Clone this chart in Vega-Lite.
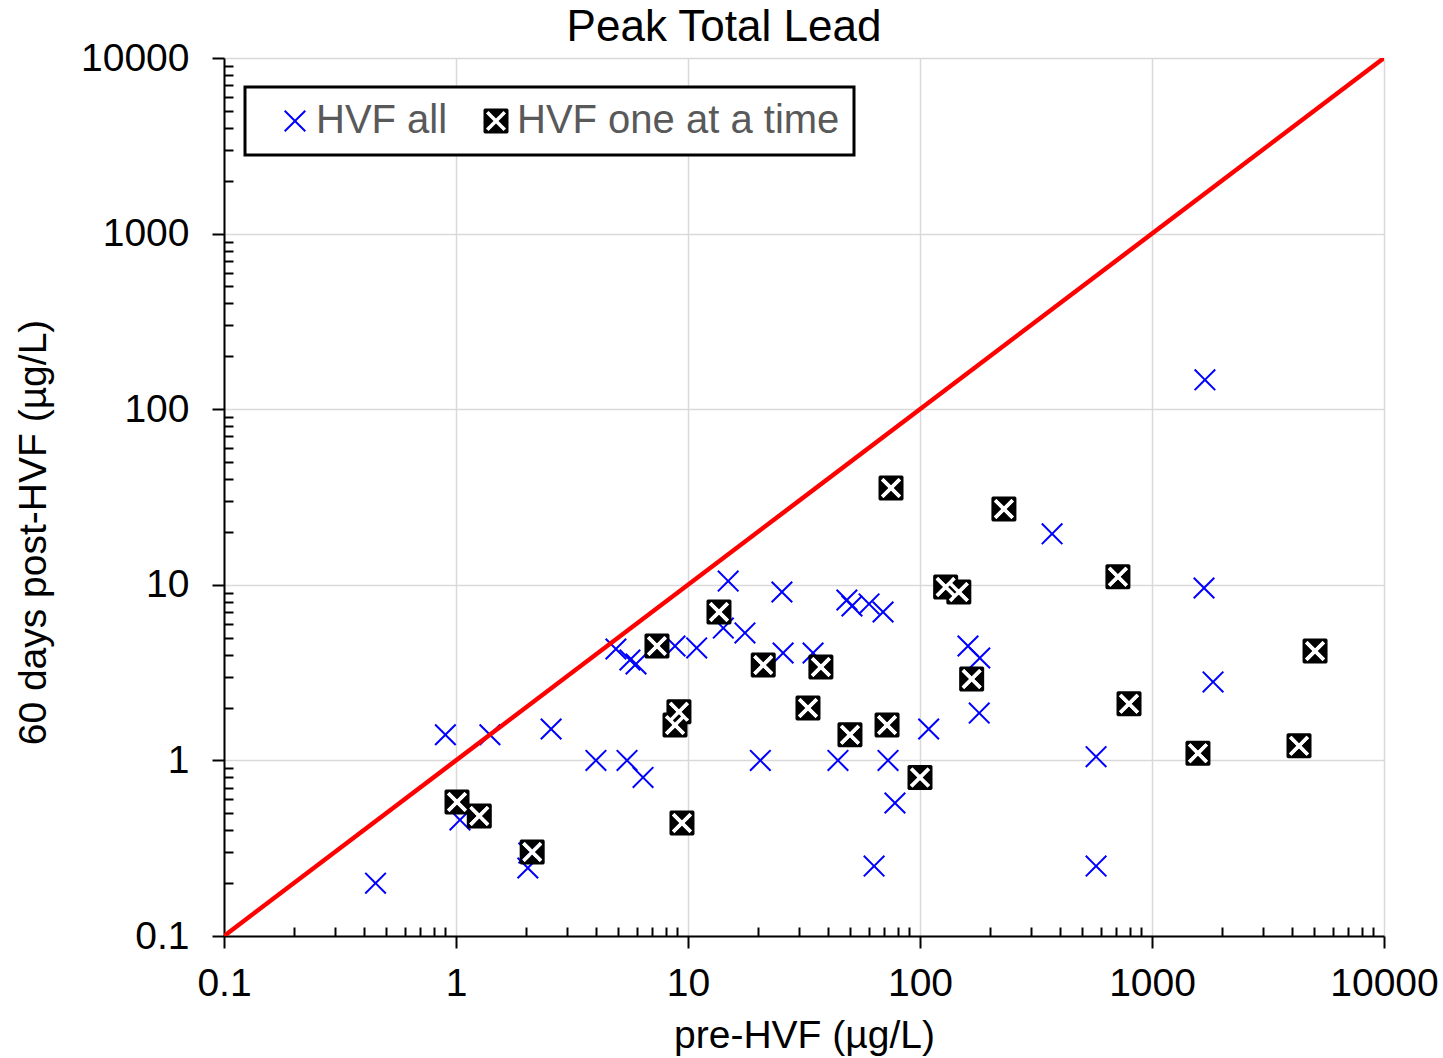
{
  "$schema": "https://vega.github.io/schema/vega-lite/v6.json",
  "width": 1160,
  "height": 878,
  "autosize": {"type": "none"},
  "padding": {"left": 224, "top": 58, "right": 59, "bottom": 122},
  "background": "white",
  "title": {
    "text": "Peak Total Lead",
    "font": "Liberation Sans",
    "fontSize": 44,
    "fontWeight": "normal",
    "color": "#000000",
    "anchor": "middle",
    "frame": "group",
    "baseline": "alphabetic",
    "dx": -80,
    "dy": 61,
    "offset": 15
  },
  "config": {
    "view": {"stroke": null},
    "font": "Liberation Sans",
    "legend": {"strokeWidth": 3}
  },
  "datasets": {
    "pts": [
      {"pre": 0.45, "post": 0.20, "series": "HVF all"},
      {"pre": 0.90, "post": 1.40, "series": "HVF all"},
      {"pre": 1.40, "post": 1.40, "series": "HVF all"},
      {"pre": 2.57, "post": 1.51, "series": "HVF all"},
      {"pre": 4.01, "post": 1.00, "series": "HVF all"},
      {"pre": 5.46, "post": 1.00, "series": "HVF all"},
      {"pre": 6.4, "post": 0.80, "series": "HVF all"},
      {"pre": 4.89, "post": 4.31, "series": "HVF all"},
      {"pre": 5.62, "post": 3.73, "series": "HVF all"},
      {"pre": 5.97, "post": 3.54, "series": "HVF all"},
      {"pre": 8.79, "post": 4.48, "series": "HVF all"},
      {"pre": 10.9, "post": 4.37, "series": "HVF all"},
      {"pre": 14.9, "post": 10.5, "series": "HVF all"},
      {"pre": 14.2, "post": 5.67, "series": "HVF all"},
      {"pre": 17.6, "post": 5.32, "series": "HVF all"},
      {"pre": 20.5, "post": 1.00, "series": "HVF all"},
      {"pre": 1.04, "post": 0.458, "series": "HVF all"},
      {"pre": 2.04, "post": 0.244, "series": "HVF all"},
      {"pre": 2.06, "post": 0.297, "series": "HVF all"},
      {"pre": 25.4, "post": 9.1, "series": "HVF all"},
      {"pre": 48.4, "post": 8.19, "series": "HVF all"},
      {"pre": 50.9, "post": 7.57, "series": "HVF all"},
      {"pre": 60.3, "post": 7.78, "series": "HVF all"},
      {"pre": 69.3, "post": 7.0, "series": "HVF all"},
      {"pre": 25.7, "post": 4.09, "series": "HVF all"},
      {"pre": 34.6, "post": 4.09, "series": "HVF all"},
      {"pre": 44.3, "post": 1.00, "series": "HVF all"},
      {"pre": 72.8, "post": 1.00, "series": "HVF all"},
      {"pre": 78.0, "post": 0.572, "series": "HVF all"},
      {"pre": 63.4, "post": 0.25, "series": "HVF all"},
      {"pre": 109, "post": 1.51, "series": "HVF all"},
      {"pre": 161, "post": 4.48, "series": "HVF all"},
      {"pre": 181, "post": 3.83, "series": "HVF all"},
      {"pre": 180, "post": 1.86, "series": "HVF all"},
      {"pre": 371, "post": 19.5, "series": "HVF all"},
      {"pre": 1691, "post": 147, "series": "HVF all"},
      {"pre": 1676, "post": 9.59, "series": "HVF all"},
      {"pre": 1833, "post": 2.80, "series": "HVF all"},
      {"pre": 574, "post": 1.05, "series": "HVF all"},
      {"pre": 574, "post": 0.25, "series": "HVF all"},
      {"pre": 1.01, "post": 0.58, "series": "HVF one at a time"},
      {"pre": 1.26, "post": 0.483, "series": "HVF one at a time"},
      {"pre": 2.13, "post": 0.301, "series": "HVF one at a time"},
      {"pre": 7.35, "post": 4.48, "series": "HVF one at a time"},
      {"pre": 13.6, "post": 7.0, "series": "HVF one at a time"},
      {"pre": 9.14, "post": 1.89, "series": "HVF one at a time"},
      {"pre": 8.79, "post": 1.59, "series": "HVF one at a time"},
      {"pre": 9.42, "post": 0.44, "series": "HVF one at a time"},
      {"pre": 75, "post": 35.6, "series": "HVF one at a time"},
      {"pre": 230, "post": 27.0, "series": "HVF one at a time"},
      {"pre": 129, "post": 9.71, "series": "HVF one at a time"},
      {"pre": 147, "post": 9.1, "series": "HVF one at a time"},
      {"pre": 21.1, "post": 3.49, "series": "HVF one at a time"},
      {"pre": 37.4, "post": 3.40, "series": "HVF one at a time"},
      {"pre": 32.9, "post": 1.99, "series": "HVF one at a time"},
      {"pre": 49.9, "post": 1.40, "series": "HVF one at a time"},
      {"pre": 72.1, "post": 1.59, "series": "HVF one at a time"},
      {"pre": 100, "post": 0.80, "series": "HVF one at a time"},
      {"pre": 167, "post": 2.91, "series": "HVF one at a time"},
      {"pre": 713, "post": 11.1, "series": "HVF one at a time"},
      {"pre": 5044, "post": 4.20, "series": "HVF one at a time"},
      {"pre": 796, "post": 2.10, "series": "HVF one at a time"},
      {"pre": 1578, "post": 1.10, "series": "HVF one at a time"},
      {"pre": 4302, "post": 1.21, "series": "HVF one at a time"}
    ],
    "diag": [
      {"pre": 0.1, "post": 0.1},
      {"pre": 10000, "post": 10000}
    ]
  },
  "layer": [
    {
      "data": {"name": "pts"},
      "mark": {"type": "point", "filled": true, "size": 625, "strokeWidth": 0, "opacity": 1},
      "encoding": {
        "x": {
          "field": "pre", "type": "quantitative",
          "scale": {"type": "log", "domain": [0.1, 10000], "nice": false},
          "axis": {
            "title": "pre-HVF (µg/L)",
            "titleFont": "Liberation Sans", "titleFontSize": 39, "titleFontWeight": "normal", "titleColor": "#000000",
            "titleBaseline": "alphabetic", "titleY": 111, "titleX": 580, "titleAlign": "center",
            "values": [0.1,0.2,0.3,0.4,0.5,0.6,0.7,0.8,0.9,1,2,3,4,5,6,7,8,9,10,20,30,40,50,60,70,80,90,100,200,300,400,500,600,700,800,900,1000,2000,3000,4000,5000,6000,7000,8000,9000,10000],
            "format": "~g",
            "labelExpr": "indexof([0.1,1,10,100,1000,10000], datum.value) >= 0 ? datum.label : ''",
            "labelFont": "Liberation Sans", "labelFontSize": 39, "labelColor": "#000000",
            "labelPadding": 16, "labelOverlap": false, "labelFlush": false,
            "domainColor": "#000000", "domainWidth": 2,
            "tickColor": "#000000", "tickWidth": 2,
            "tickSize": {"condition": {"test": "indexof([0.1,1,10,100,1000,10000], datum.value) >= 0", "value": 12}, "value": -9},
            "grid": true,
            "gridColor": "#D9D9D9", "gridWidth": 1.5,
            "gridOpacity": {"condition": {"test": "indexof([0.1,1,10,100,1000,10000], datum.value) >= 0", "value": 1}, "value": 0}
          }
        },
        "y": {
          "field": "post", "type": "quantitative",
          "scale": {"type": "log", "domain": [0.1, 10000], "nice": false},
          "axis": {
            "title": "60 days post-HVF (µg/L)",
            "titleFont": "Liberation Sans", "titleFontSize": 39, "titleFontWeight": "normal", "titleColor": "#000000",
            "titleBaseline": "alphabetic", "titleAngle": -90, "titleX": -179, "titleY": 474, "titleAlign": "center",
            "values": [0.1,0.2,0.3,0.4,0.5,0.6,0.7,0.8,0.9,1,2,3,4,5,6,7,8,9,10,20,30,40,50,60,70,80,90,100,200,300,400,500,600,700,800,900,1000,2000,3000,4000,5000,6000,7000,8000,9000,10000],
            "format": "~g",
            "labelExpr": "indexof([0.1,1,10,100,1000,10000], datum.value) >= 0 ? datum.label : ''",
            "labelFont": "Liberation Sans", "labelFontSize": 39, "labelColor": "#000000",
            "labelPadding": 23, "labelOverlap": false, "labelFlush": false,
            "domainColor": "#000000", "domainWidth": 2,
            "tickColor": "#000000", "tickWidth": 2,
            "tickSize": {"condition": {"test": "indexof([0.1,1,10,100,1000,10000], datum.value) >= 0", "value": 12}, "value": -9},
            "grid": true,
            "gridColor": "#D9D9D9", "gridWidth": 1.5,
            "gridOpacity": {"condition": {"test": "indexof([0.1,1,10,100,1000,10000], datum.value) >= 0", "value": 1}, "value": 0}
          }
        },
        "shape": {
          "field": "series", "type": "nominal",
          "scale": {
            "domain": ["HVF all", "HVF one at a time"],
            "range": [
              "M0,-0.113L0.767,-0.88L0.88,-0.767L0.113,0L0.88,0.767L0.767,0.88L0,0.113L-0.767,0.88L-0.88,0.767L-0.113,0L-0.88,-0.767L-0.767,-0.88Z",
              "M-0.9,-1L0.9,-1L1,-0.9L1,0.9L0.9,1L-0.9,1L-1,0.9L-1,-0.9ZM0,-0.198L-0.602,-0.8L-0.8,-0.602L-0.198,0L-0.8,0.602L-0.602,0.8L0,0.198L0.602,0.8L0.8,0.602L0.198,0L0.8,-0.602L0.602,-0.8Z"
            ]
          },
          "legend": {
            "title": " ",
            "titleOrient": "left",
            "titlePadding": 16,
            "titleFontSize": 10,
            "orient": "none",
            "legendX": 21,
            "legendY": 29,
            "direction": "horizontal",
            "strokeColor": "#000000",
            "fillColor": "#FFFFFF",
            "padding": 14,
            "symbolSize": 625,
            "symbolStrokeWidth": 0,
            "columnPadding": 28,
            "labelOffset": 1,
            "labelFont": "Liberation Sans",
            "labelFontSize": 40,
            "labelColor": "#595959",
            "labelLimit": 1000
          }
        },
        "color": {
          "field": "series", "type": "nominal",
          "scale": {"domain": ["HVF all", "HVF one at a time"], "range": ["#0000FF", "#000000"]},
          "legend": {
            "title": " ",
            "titleOrient": "left",
            "titlePadding": 16,
            "titleFontSize": 10,
            "orient": "none",
            "legendX": 21,
            "legendY": 29,
            "direction": "horizontal",
            "strokeColor": "#000000",
            "fillColor": "#FFFFFF",
            "padding": 14,
            "symbolSize": 625,
            "symbolStrokeWidth": 0,
            "columnPadding": 28,
            "labelOffset": 1,
            "labelFont": "Liberation Sans",
            "labelFontSize": 40,
            "labelColor": "#595959",
            "labelLimit": 1000
          }
        }
      }
    },
    {
      "data": {"name": "pts"},
      "transform": [{"filter": "datum.series == 'HVF one at a time'"}],
      "mark": {
        "type": "point", "filled": true, "size": 625, "strokeWidth": 0, "opacity": 1,
        "color": "#FFFFFF",
        "shape": "M0,-0.198L0.602,-0.8L0.8,-0.602L0.198,0L0.8,0.602L0.602,0.8L0,0.198L-0.602,0.8L-0.8,0.602L-0.198,0L-0.8,-0.602L-0.602,-0.8Z"
      },
      "encoding": {
        "x": {"field": "pre", "type": "quantitative"},
        "y": {"field": "post", "type": "quantitative"}
      }
    },
    {
      "data": {"name": "diag"},
      "mark": {"type": "line", "color": "#FF0000", "strokeWidth": 4.5, "clip": true},
      "encoding": {
        "x": {"field": "pre", "type": "quantitative"},
        "y": {"field": "post", "type": "quantitative"}
      }
    }
  ]
}
